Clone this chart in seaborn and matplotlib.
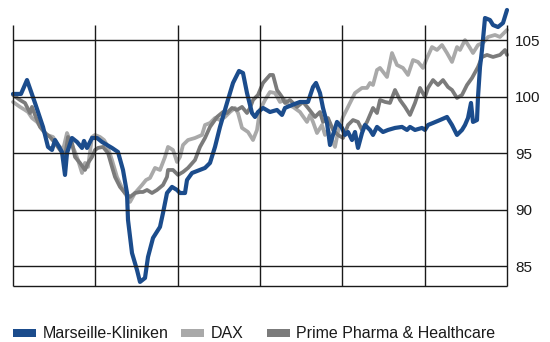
import matplotlib
matplotlib.use("Agg")
import matplotlib.pyplot as plt
from matplotlib.patches import Patch
import numpy as np
import pandas as pd
import seaborn as sns

# Trading-day index (0 .. 494) and indexed performance values per series
blue_day = [0, 8, 14, 22, 30, 35, 39, 42, 45, 49, 52, 54, 59, 64, 69, 71, 74, 79, 84, 89,
            94, 99, 105, 110, 114, 115, 119, 124, 127, 132, 135, 140, 147, 150, 154, 159,
            164, 167, 172, 174, 179, 192, 197, 202, 207, 214, 220, 226, 230, 234, 239, 242,
            245, 250, 257, 264, 269, 272, 279, 287, 295, 300, 303, 307, 310, 314, 317, 320,
            324, 329, 332, 335, 339, 342, 345, 349, 352, 357, 360, 364, 370, 375, 382, 389,
            394, 397, 402, 409, 412, 415, 420, 427, 434, 439, 444, 449, 452, 455, 458, 460,
            464, 465, 467, 469, 472, 477, 480, 485, 490, 494]
blue_val = [100.27, 100.27, 101.50, 99.47, 97.35, 95.58, 95.31, 96.19, 95.75, 95.13, 93.10,
            95.04, 96.37, 96.02, 95.49, 96.11, 95.49, 96.37, 96.37, 96.02, 95.75, 95.49, 95.13,
            93.54, 91.50, 89.12, 86.19, 84.69, 83.63, 83.98, 85.84, 87.52, 88.50, 89.73, 91.50,
            92.04, 91.77, 91.50, 91.50, 92.65, 93.27, 93.72, 94.16, 95.58, 97.35, 99.47, 101.24,
            102.30, 102.12, 100.35, 98.58, 98.23, 98.67, 99.03, 98.67, 98.85, 98.41, 99.03,
            99.29, 99.56, 99.56, 100.88, 101.24, 100.35, 99.03, 97.70, 95.75, 96.64, 97.79,
            97.26, 96.64, 96.90, 96.19, 96.90, 95.49, 96.81, 97.52, 97.08, 96.64, 97.35, 96.90,
            97.08, 97.26, 97.35, 97.08, 97.35, 97.08, 97.26, 97.08, 97.52, 97.70, 97.96, 98.23,
            97.52, 96.64, 97.08, 97.52, 98.14, 99.47, 97.79, 97.96, 100.00, 102.65, 104.16,
            106.99, 106.81, 106.37, 106.19, 106.55, 107.70]

dax_day = [0, 7, 12, 15, 19, 24, 30, 34, 40, 45, 50, 54, 59, 62, 65, 69, 72, 75, 79, 82, 87,
           91, 94, 99, 104, 110, 117, 122, 129, 133, 137, 142, 147, 152, 155, 160, 164, 167,
           170, 175, 182, 189, 192, 197, 202, 207, 212, 217, 222, 225, 229, 235, 240, 244, 247,
           252, 257, 262, 267, 272, 275, 280, 287, 289, 294, 297, 300, 304, 309, 312, 315, 319,
           322, 325, 330, 337, 342, 349, 354, 357, 360, 364, 367, 374, 379, 384, 390, 395, 400,
           405, 410, 414, 419, 424, 429, 434, 439, 444, 447, 452, 457, 460, 465, 470, 475, 482,
           487, 494]
dax_val = [99.56, 99.12, 98.85, 98.67, 98.14, 97.79, 97.08, 96.64, 96.46, 95.75, 95.31, 96.81,
           95.75, 95.13, 94.42, 93.27, 94.16, 93.81, 96.46, 96.64, 96.46, 96.19, 95.75, 94.42,
           92.92, 91.77, 90.71, 91.50, 92.21, 92.65, 92.83, 93.72, 93.54, 94.69, 95.58, 95.31,
           94.25, 94.69, 95.75, 96.19, 96.37, 96.64, 97.52, 97.70, 98.14, 97.96, 98.23, 98.67,
           99.03, 98.58, 97.26, 96.90, 96.19, 97.08, 98.85, 99.73, 100.44, 100.35, 99.56, 99.73,
           99.29, 99.12, 98.67, 98.41, 97.79, 98.41, 97.79, 96.81, 97.52, 96.64, 97.08, 96.19,
           95.58, 96.90, 98.23, 99.47, 100.35, 100.80, 100.80, 101.24, 101.06, 102.39, 102.57,
           101.77, 103.89, 102.83, 102.57, 101.95, 103.27, 103.10, 102.57, 103.45, 104.42,
           104.16, 104.60, 103.89, 103.10, 104.42, 104.16, 105.04, 104.34, 103.89, 104.60,
           104.78, 105.31, 105.49, 105.31, 105.93]

pph_day = [0, 7, 12, 17, 19, 22, 27, 32, 37, 42, 47, 52, 55, 59, 62, 67, 72, 75, 79, 82, 85,
           90, 95, 99, 102, 107, 112, 117, 122, 127, 130, 134, 139, 144, 150, 154, 155, 160,
           165, 170, 175, 182, 187, 192, 197, 204, 210, 214, 219, 224, 229, 234, 237, 240, 245,
           250, 257, 260, 264, 269, 272, 277, 284, 290, 295, 302, 307, 310, 315, 320, 325, 330,
           335, 340, 345, 349, 354, 360, 364, 367, 372, 377, 382, 387, 392, 397, 402, 407, 412,
           415, 420, 425, 430, 435, 439, 444, 449, 454, 459, 465, 469, 474, 480, 487, 492, 494]
pph_val = [100.18, 99.73, 99.47, 98.58, 99.12, 98.41, 97.35, 96.81, 96.46, 95.93, 95.31, 94.69,
           96.46, 95.93, 94.69, 94.16, 93.54, 94.16, 94.69, 95.31, 95.49, 95.58, 95.04, 93.81,
           92.92, 92.04, 91.50, 91.15, 91.50, 91.59, 91.59, 91.77, 91.50, 91.77, 92.21, 92.92,
           93.54, 93.54, 93.10, 93.36, 93.72, 94.42, 95.58, 96.37, 97.35, 98.23, 98.67, 98.58,
           99.03, 98.85, 99.12, 98.58, 99.03, 99.73, 100.18, 101.24, 101.95, 101.95, 100.62,
           100.00, 99.47, 99.73, 99.12, 99.56, 99.03, 98.23, 98.67, 97.79, 98.14, 97.08, 96.64,
           96.37, 97.52, 97.96, 97.79, 97.08, 97.79, 99.03, 98.58, 99.73, 99.56, 99.47, 100.62,
           99.73, 99.12, 98.41, 99.47, 100.80, 100.00, 100.80, 101.50, 101.06, 101.50, 100.88,
           100.62, 99.91, 100.18, 101.06, 101.68, 102.65, 103.54, 103.72, 103.54, 103.72,
           104.16, 103.72]

series_names = ["Marseille-Kliniken", "DAX", "Prime Pharma & Healthcare"]
series_colors = ["#1b4c8c", "#a9a9a9", "#7b7b7b"]
y_ticks = [85, 90, 95, 100, 105]

df = pd.concat([
    pd.DataFrame({"day": blue_day, "value": blue_val, "series": series_names[0]}),
    pd.DataFrame({"day": dax_day, "value": dax_val, "series": series_names[1]}),
    pd.DataFrame({"day": pph_day, "value": pph_val, "series": series_names[2]}),
], ignore_index=True)

sns.set_style("white")
plt.rcParams["font.family"] = ["Liberation Sans", "DejaVu Sans"]

fig = plt.figure(figsize=(5.5, 3.42), dpi=100)
ax = fig.add_axes([13 / 550, 1 - 286 / 342, 494 / 550, (286 - 25) / 342])

palette = dict(zip(series_names, series_colors))
# grey benchmarks first, the company line on top
for name, lw in [(series_names[1], 2.7), (series_names[2], 2.7), (series_names[0], 3.0)]:
    sns.lineplot(data=df[df["series"] == name], x="day", y="value", color=palette[name],
                 linewidth=lw, estimator=None, sort=False, legend=False, ax=ax,
                 clip_on=False, zorder=2)

x_end = 494
y_lo, y_hi = 83.27, 106.37
ax.set_xlim(0, x_end)
ax.set_ylim(y_lo, y_hi)

# gridlines drawn above the series
grid_kw = dict(colors="#1a1a1a", linewidth=1.0, zorder=3, clip_on=False)
ax.hlines(y_ticks + [y_lo], 0, x_end, **grid_kw)
ax.vlines(np.linspace(0, x_end, 7), y_lo, y_hi, **grid_kw)

for s in ax.spines.values():
    s.set_visible(False)
ax.set_xticks([])
ax.set_yticks(y_ticks)
ax.yaxis.tick_right()
ax.tick_params(axis="y", length=0, pad=6, labelsize=11, labelcolor="#1a1a1a")
ax.set_xlabel("")
ax.set_ylabel("")

# one legend entry per series, placed along the bottom edge
legend_x = [13 / 550, 181 / 550, 267 / 550]
for name, color, lx in zip(series_names, series_colors, legend_x):
    fig.legend([Patch(facecolor=color, edgecolor="none")], [name], loc="center left",
               bbox_to_anchor=(lx, 1 - 334 / 342), frameon=False, fontsize=11.5,
               handlelength=1.44, handleheight=0.4, handletextpad=0.4,
               borderaxespad=0, borderpad=0, labelcolor="#1a1a1a")

fig.savefig("out.png", dpi=100)
